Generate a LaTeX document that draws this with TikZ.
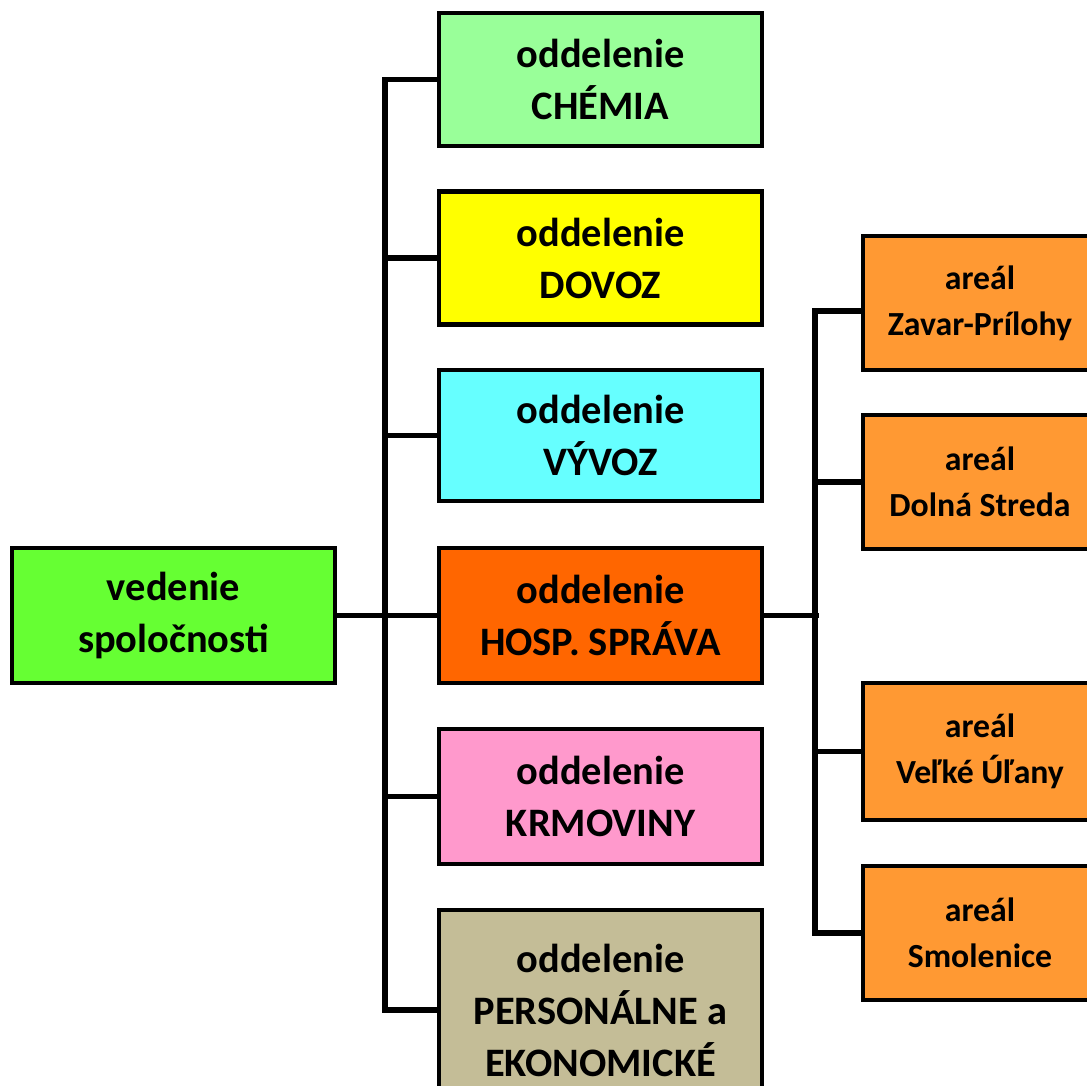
\documentclass[tikz,border=0pt]{standalone}
\usepackage{fontspec}
\setmainfont{Carlito}
\usetikzlibrary{positioning}
\tikzset{
  unit/.style={draw=black, line width=1.4pt, minimum width=3.23cm, minimum height=1.33cm, align=center, inner sep=0pt, font=\bfseries\fontsize{11.5}{14.8}\selectfont},
  site/.style={unit, fill=siteorange, minimum width=2.34cm, minimum height=1.34cm, font=\bfseries\fontsize{9.6}{13}\selectfont},
  link/.style={line width=1.7pt}
}
\definecolor{headgreen}{HTML}{66FF33}
\definecolor{chemgreen}{HTML}{99FF99}
\definecolor{dovozyellow}{HTML}{FFFF00}
\definecolor{vyvozcyan}{HTML}{66FFFF}
\definecolor{hosporange}{HTML}{FF6600}
\definecolor{krmpink}{HTML}{FF99CC}
\definecolor{perstan}{HTML}{C4BD97}
\definecolor{siteorange}{HTML}{FF9933}

\begin{document}
\begin{tikzpicture}

% picture frame (pixels / 100)
\clip (0,0) rectangle (10.87,-10.86);

% company management
\node[unit, fill=headgreen, minimum height=1.35cm] (vedenie) at (1.735,-6.155) {vedenie\\spoločnosti};

% departments
\node[unit, fill=chemgreen] (chemia) at (6.005,-0.795) {oddelenie\\CHÉMIA};
\node[unit, fill=dovozyellow] (dovoz) at (6.005,-2.58) {oddelenie\\DOVOZ};
\node[unit, fill=vyvozcyan, minimum height=1.31cm] (vyvoz) at (6.005,-4.355) {oddelenie\\VÝVOZ};
\node[unit, fill=hosporange, minimum height=1.35cm] (hosp) at (6.005,-6.155) {oddelenie\\HOSP. SPRÁVA};
\node[unit, fill=krmpink, minimum height=1.35cm] (krmoviny) at (6.005,-7.965) {oddelenie\\KRMOVINY};
\node[unit, fill=perstan, minimum height=2.0cm] (personalne) at (6.005,-10.1) {oddelenie\\PERSONÁLNE a\\EKONOMICKÉ};

% sites of HOSP. SPRÁVA
\node[site] (zavar) at (9.8,-3.03) {areál\\Zavar-Prílohy};
\node[site] (dolna) at (9.8,-4.82) {areál\\Dolná Streda};
\node[site, minimum height=1.37cm] (ulany) at (9.8,-7.515) {areál\\Veľké Úľany};
\node[site] (smolenice) at (9.8,-9.33) {areál\\Smolenice};

% left trunk
\draw[link] (chemia.west) -- ++(-0.52,0) coordinate (ltop) |- (personalne.west);
\foreach \d in {dovoz,vyvoz,krmoviny}
{
    \draw[link] (\d.west) -- ++(-0.52,0);
}
\draw[link] (vedenie.east) -- (hosp.west);

% right trunk
\draw[link] (hosp.east) -- ++(0.55,0);
\draw[link] ([yshift=-0.08cm]zavar.west) -- ++(-0.46,0) coordinate (rtop) |- (smolenice.west);
\foreach \s in {dolna,ulany}
{
    \draw[link] (\s.west) -- ++(-0.46,0);
}

\end{tikzpicture}
\end{document}
